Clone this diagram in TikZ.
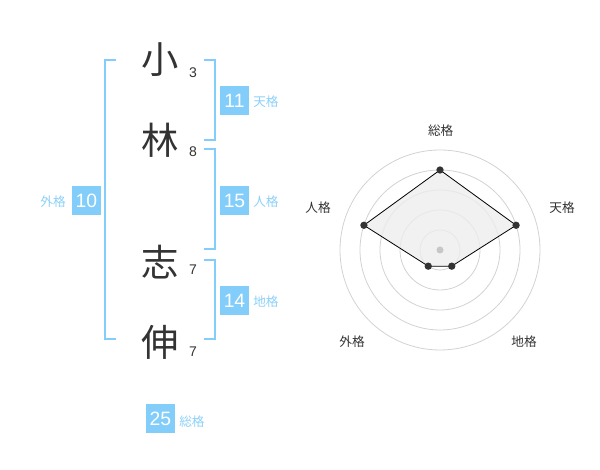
\documentclass[tikz,border=0pt]{standalone}
\usepackage{fontspec}
\setmainfont{Liberation Sans}
\newfontfamily\jpfont{Noto Sans CJK JP}
\definecolor{kakublue}{RGB}{130,205,250}
\definecolor{kakulabel}{RGB}{140,208,248}
\definecolor{kanjigray}{RGB}{51,51,51}
\definecolor{ringgray}{RGB}{210,210,210}
\tikzset{
  kanji/.style={font=\jpfont\fontsize{28pt}{30pt}\selectfont,text=kanjigray,inner sep=0pt},
  strokes/.style={font=\fontsize{10.5pt}{12pt}\selectfont,text=kanjigray,inner sep=0pt},
  kakubox/.style={fill=kakublue,text=white,minimum size=21.75pt,inner sep=0pt,
    font=\fontsize{14.5pt}{16pt}\selectfont},
  kakuname/.style={font=\jpfont\fontsize{9.5pt}{11pt}\selectfont,text=kakulabel,inner sep=0pt},
  bracket/.style={kakublue,line width=1.5pt},
  axisname/.style={font=\jpfont\fontsize{9.5pt}{11pt}\selectfont,text=kanjigray,inner sep=0pt},
  ring/.style={ringgray,line width=0.6pt},
  dot/.style={circle,fill=kanjigray,inner sep=0pt,minimum size=5.5pt}
}
\begin{document}
\begin{tikzpicture}[x=0.75pt,y=0.75pt]
  \useasboundingbox (0,0) rectangle (600,470);
  % name
  \node[kanji] (k1) at (160,410) {小};
  \node[kanji] (k2) at (160,330) {林};
  \node[kanji] (k3) at (160,208) {志};
  \node[kanji] (k4) at (160,128) {伸};
  \node[strokes] (s1) at (193,397) {3};
  \node[strokes] (s2) at (193,318) {8};
  \node[strokes] (s3) at (193,200) {7};
  \node[strokes] (s4) at (193,118) {7};
  % brackets
  \draw[bracket] (116,410) -- (105,410) -- (105,131) -- (116,131);
  \draw[bracket] (204,410) -- (215,410) -- (215,330) -- (204,330);
  \draw[bracket] (204,321) -- (215,321) -- (215,221) -- (204,221);
  \draw[bracket] (204,210) -- (215,210) -- (215,131) -- (204,131);
  % kaku values
  \node[kakubox] (ten) at (234.5,369.5) {11};
  \node[kakuname,anchor=west] (tenname) at (253,368) {天格};
  \node[kakubox] (jin) at (234.5,269.5) {15};
  \node[kakuname,anchor=west] (jinname) at (253,268) {人格};
  \node[kakubox] (chi) at (234.5,169.5) {14};
  \node[kakuname,anchor=west] (chiname) at (253,168) {地格};
  \node[kakubox] (gai) at (86.5,269) {10};
  \node[kakuname,anchor=east] (gainame) at (66,268) {外格};
  \node[kakubox] (sou) at (160.5,51) {25};
  \node[kakuname,anchor=west] (souname) at (179,48) {総格};
  % radar
  \begin{scope}[shift={(440,220)}]
    \foreach \r in {20,40,60,80,100}
      \draw[ring] (0,0) circle (\r);
    \coordinate (psou) at (90:80);
    \coordinate (pten) at (18:80);
    \coordinate (pchi) at (-54:20);
    \coordinate (pgai) at (-126:20);
    \coordinate (pjin) at (162:80);
    \draw[black,line width=0.6pt,fill=black!7,fill opacity=0.8]
      (psou) -- (pten) -- (pchi) -- (pgai) -- (pjin) -- cycle;
    \fill[black!22] (0,0) circle (3.5);
    \foreach \p in {psou,pten,pchi,pgai,pjin}
      \node[dot] at (\p) {};
    \node[axisname] (asou) at (0.7,119) {総格};
    \node[axisname] (aten) at (122,42) {天格};
    \node[axisname] (ajin) at (-122,42) {人格};
    \node[axisname] (agai) at (-88,-92) {外格};
    \node[axisname] (achi) at (84,-92) {地格};
  \end{scope}
\end{tikzpicture}
\end{document}
